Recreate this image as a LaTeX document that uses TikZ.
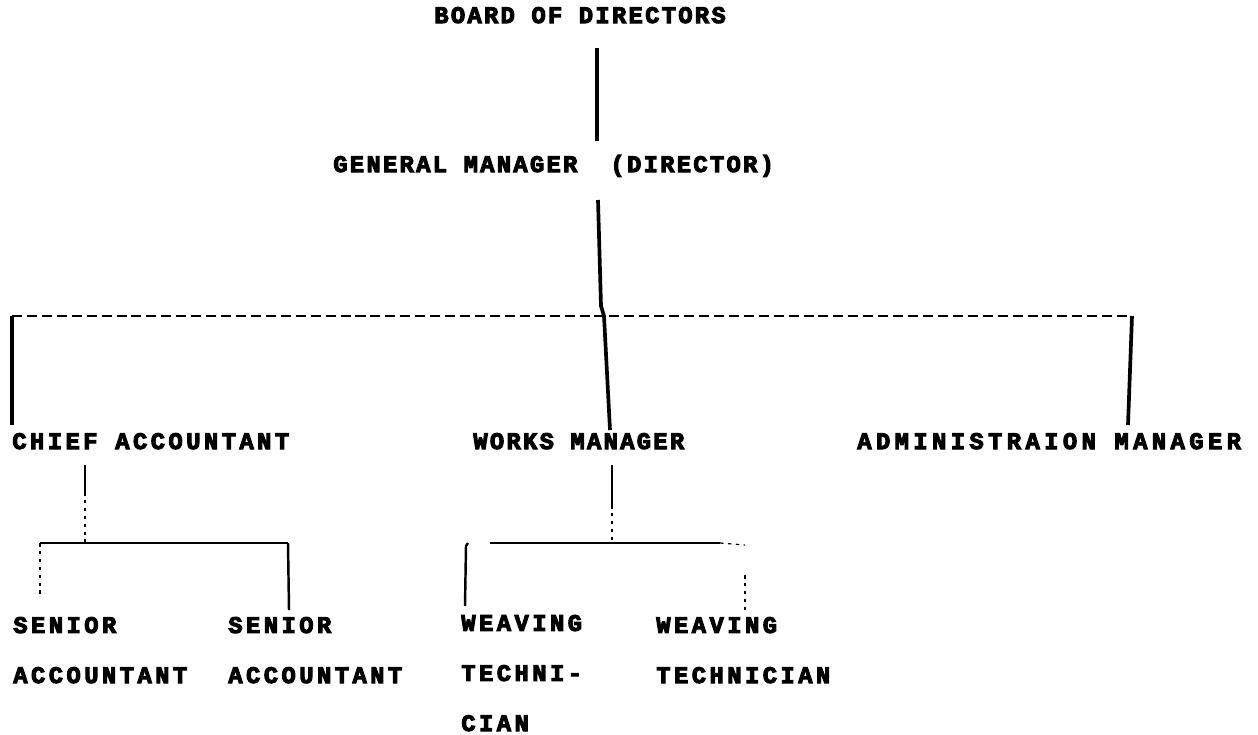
\documentclass[tikz,border=0pt]{standalone}
\usepackage{fontspec}
\usepackage{tikz}
\usetikzlibrary{calc, positioning}
\newfontfamily\dotfont{Liberation Mono Bold}[LetterSpace=14.8, FakeBold=4.5]
\newfontfamily\dotnarrow{Liberation Mono Bold}[LetterSpace=9.9, FakeBold=4.5]
\newfontfamily\dotwide{Liberation Mono Bold}[LetterSpace=18.8, FakeBold=4.5]

\tikzset{
  lbl/.style={font=\dotfont\fontsize{13.5}{28.5}\selectfont, inner sep=0pt, anchor=base west, align=left},
  lblnarrow/.style={lbl, font=\dotnarrow\fontsize{13.5}{28.5}\selectfont},
  lblwide/.style={lbl, font=\dotwide\fontsize{13.5}{28.5}\selectfont},
  link/.style={line width=2.1pt},
  thinlink/.style={line width=1.4pt},
  bar/.style={line width=1.4pt, dash pattern=on 5.7pt off 2.8pt},
  faint/.style={line width=0.7pt, dash pattern=on 2pt off 2.5pt}
}

\begin{document}
\begin{tikzpicture}[x=0.02cm, y=-0.02cm]
  \useasboundingbox (0,0) rectangle (1258,734);

  % titles
  \node[lblnarrow] (board) at (434,23) {BOARD OF DIRECTORS};
  \node[lblnarrow] (gm) at (333,172) {GENERAL MANAGER~~(DIRECTOR)};

  % second level (base of last line)
  \node[lbl] (chief) at (12,449) {CHIEF ACCOUNTANT};
  \node[lblnarrow] (works) at (473,449) {WORKS MANAGER};
  \node[lblwide] (admin) at (857,449) {ADMINISTRAION MANAGER};

  % third level
  \node[lbl] (sacc1) at (13,683) {SENIOR\\ACCOUNTANT};
  \node[lbl] (sacc2) at (228,683) {SENIOR\\ACCOUNTANT};
  \node[lbl] (weave1) at (461,731) {WEAVING\\TECHNI-\\CIAN};
  \node[lbl] (weave2) at (656,683) {WEAVING\\TECHNICIAN};

  % junctions
  \coordinate (boardout) at (597,48);
  \coordinate (gmin) at (597,141);
  \coordinate (gmout) at (598,200);
  \coordinate (spine) at (604,316);
  \coordinate (barL) at (12,316);
  \coordinate (barR) at (1132,316);
  \coordinate (chiefin) at (12,425);
  \coordinate (worksin) at (610,430);
  \coordinate (adminin) at (1128,425);

  \draw[link] (boardout) -- (gmin);
  \draw[link] (gmout) -- (601,306) -- (spine) -- (worksin);
  \draw[bar] (barL) -- (barR);
  \draw[link] (barL) -- (chiefin);
  \draw[link] (barR) -- (adminin);

  % chief accountant branch
  \coordinate (chiefout) at (85,465);
  \coordinate (accbar) at (85,543);
  \draw[thinlink] (chiefout) -- (85,492);
  \draw[faint] (85,492) -- (accbar);
  \draw[thinlink] (40,543) -- (288,543);
  \draw[faint] (40,543) -- (40,597);
  \draw[thinlink] (288,543) -- (289,610);

  % works manager branch
  \coordinate (worksout) at (612,465);
  \coordinate (techbar) at (612,543);
  \draw[thinlink] (worksout) -- (612,505);
  \draw[faint] (612,505) -- (techbar);
  \draw[thinlink] (490,543) -- (720,543);
  \draw[faint] (720,543) -- (745,545);
  \draw[thinlink] (468,543) -- (466,546) -- (465,606);
  \draw[faint] (745,575) -- (745,610);
\end{tikzpicture}
\end{document}
